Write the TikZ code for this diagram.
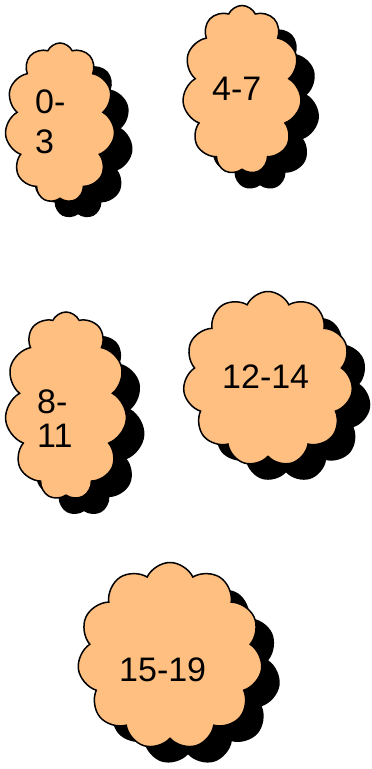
\documentclass[tikz,border=0pt]{standalone}
\usepackage{fontspec}
\setmainfont{Liberation Sans}
\usepackage{xcolor}
\usepackage{tikz}
\usetikzlibrary{shapes.symbols,shadows}
\definecolor{cloudPeach}{HTML}{FFBF80}

\begin{document}
\begin{tikzpicture}[x=1pt, y=-1pt,
  puff/.style={cloud, cloud puffs=11, cloud puff arc=130, cloud ignores aspect,
    draw=black, line width=1.5pt, fill=cloudPeach, inner sep=0pt,
    drop shadow={shadow xshift=18pt, shadow yshift=-16pt, fill=black, opacity=1}},
  lbl/.style={anchor=base west, inner sep=0pt, align=left,
    font=\fontsize{34}{40}\selectfont}]
\useasboundingbox (0,0) rectangle (372,769);
  \node[puff, minimum width=110pt, minimum height=160pt] (c03) at (60,123) {};
  \node[puff, minimum width=119pt, minimum height=169pt] (c47) at (242,90) {};
  \node[puff, minimum width=122pt, minimum height=188pt] (c811) at (66,406) {};
  \node[puff, minimum width=170pt, minimum height=175pt] (c1214) at (268,379) {};
  \node[puff, minimum width=185pt, minimum height=187pt] (c1519) at (170,656) {};
  % multi-line labels sit on their last baseline
  \node[lbl] (t03) at (35,153) {0-\\3};
  \node[lbl] (t47) at (212,100) {4-7};
  \node[lbl, font=\fontsize{34}{34}\selectfont] (t811) at (37,447) {8-\\11};
  \node[lbl] (t1214) at (222,388) {12-14};
  \node[lbl] (t1519) at (119,681) {15-19};
\end{tikzpicture}
\end{document}
